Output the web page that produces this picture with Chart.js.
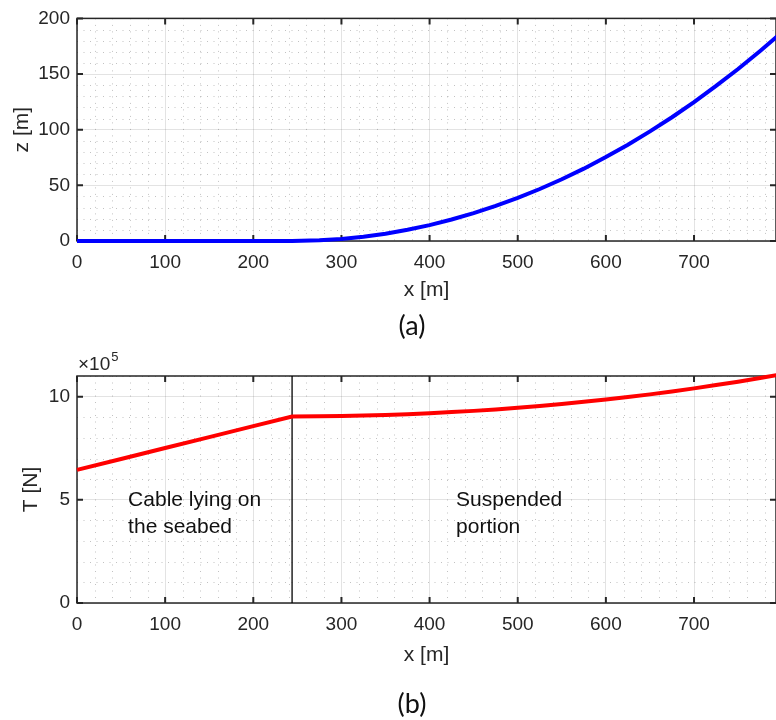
<!DOCTYPE html>
<html>
<head>
<meta charset="utf-8">
<script src="https://cdn.jsdelivr.net/npm/chart.js@4.4.0/dist/chart.umd.min.js"></script>
<style>
  body { margin: 0; background: #fff; }
  #wrap { position: relative; width: 776px; height: 720px; overflow: hidden; }
  canvas { position: absolute; left: 0; }
  #shapeChart { top: 0; }
  #tensionChart { top: 340px; }
  .cap { position: absolute; width: 100px; left: 362px; text-align: center;
         font: 27px Lato, sans-serif; line-height: 30px; color: #111; }
</style>
</head>
<body>
<div id="wrap">
  <canvas id="shapeChart" width="776" height="340"></canvas>
  <canvas id="tensionChart" width="776" height="380"></canvas>
  <div class="cap" style="top:310px">(a)</div>
  <div class="cap" style="top:688px">(b)</div>
</div>
<script>
// cable lying on the seabed: z stays 0, tension grows with friction (T in 1e5 N)
const seabedX = [0, 50, 100, 150, 200, 244];
const seabedZ = [0, 0, 0, 0, 0, 0];
const seabedT = [6.45, 6.98, 7.51, 8.04, 8.57, 9.04];

// suspended catenary from the touchdown point up to the surface
const hangX = [244, 275, 300, 325, 350, 375, 400, 425, 450, 475, 500, 525, 550, 575, 600, 625, 650, 675, 700, 725, 750, 775, 795];
const hangZ = [0, 0.6, 1.8, 3.9, 6.6, 10.1, 14.3, 19.3, 25.0, 31.5, 38.7, 46.7, 55.5, 65.0, 75.4, 86.5, 98.5, 111.2, 124.8, 139.3, 154.5, 170.7, 184.2];
const hangT = [9.04, 9.05, 9.06, 9.08, 9.11, 9.15, 9.20, 9.25, 9.31, 9.38, 9.46, 9.55, 9.64, 9.75, 9.86, 9.98, 10.11, 10.25, 10.40, 10.56, 10.72, 10.90, 11.05];

const touchdownX = 244;
const xMax = 793;
const zMax = 200;
const tMax = 11;
const xTicks = [0, 100, 200, 300, 400, 500, 600, 700];
const zTicks = [0, 50, 100, 150, 200];
const tTicks = [0, 5, 10];

const regionNotes = [
  { x: 58, y: 5.0, lines: ['Cable lying on', 'the seabed'] },
  { x: 430, y: 5.0, lines: ['Suspended', 'portion'] }
];

const ink = '#262626';
const FONT = "'Liberation Sans', Arial, sans-serif";
Chart.defaults.font.family = FONT;
Chart.defaults.color = ink;

function minorsOf(max, step, majors) {
  const out = [];
  for (let i = 1; i * step <= max + 1e-9; i++) {
    const v = Math.round(i * step * 1000) / 1000;
    if (!majors.includes(v)) out.push(v);
  }
  return out;
}

function pts(xs, ys) { return xs.map((x, i) => ({ x: x, y: ys[i] })); }

// matlab-ish axes: dotted minor grid, inward ticks, full box
const axesBox = {
  id: 'axesBox',
  beforeDatasetsDraw(chart, args, o) {
    const { ctx, chartArea: a } = chart;
    const sx = chart.scales.x, sy = chart.scales.y;
    ctx.save();
    ctx.lineWidth = 1;
    ctx.strokeStyle = 'rgba(0,0,0,0.24)';
    ctx.setLineDash([1, 5.5]);
    ctx.beginPath();
    o.xMinor.forEach(v => { const p = Math.round(sx.getPixelForValue(v)) + 0.5; ctx.moveTo(p, a.top); ctx.lineTo(p, a.bottom); });
    o.yMinor.forEach(v => { const p = Math.round(sy.getPixelForValue(v)) + 0.5; ctx.moveTo(a.left, p); ctx.lineTo(a.right, p); });
    ctx.stroke();
    ctx.setLineDash([]);

    ctx.strokeStyle = ink;
    ctx.lineWidth = 2;
    ctx.beginPath();
    sx.ticks.forEach(t => {
      const p = sx.getPixelForValue(t.value);
      ctx.moveTo(p, a.bottom); ctx.lineTo(p, a.bottom - 6);
      ctx.moveTo(p, a.top); ctx.lineTo(p, a.top + 6);
    });
    sy.ticks.forEach(t => {
      const p = sy.getPixelForValue(t.value);
      ctx.moveTo(a.left, p); ctx.lineTo(a.left + 6, p);
      ctx.moveTo(a.right, p); ctx.lineTo(a.right - 6, p);
    });
    ctx.stroke();
    ctx.lineWidth = 1.5;
    ctx.strokeRect(a.left, a.top, a.right - a.left, a.bottom - a.top);
    ctx.restore();
  },
  afterDatasetsDraw(chart, args, o) {
    const { ctx, chartArea: a } = chart;
    const sx = chart.scales.x, sy = chart.scales.y;
    ctx.save();
    ctx.fillStyle = '#111';
    ctx.textBaseline = 'middle';
    ctx.textAlign = 'left';
    ctx.font = '21px ' + FONT;
    (o.notes || []).forEach(n => {
      const px = sx.getPixelForValue(n.x), py = sy.getPixelForValue(n.y);
      n.lines.forEach((s, i) => ctx.fillText(s, px, py + i * 27));
    });
    if (o.exponent) {
      ctx.fillStyle = ink;
      ctx.font = '19px ' + FONT;
      const base = '\u00d710';
      ctx.fillText(base, a.left + 1, a.top - 11);
      const w = ctx.measureText(base).width;
      ctx.font = '13px ' + FONT;
      ctx.fillText(o.exponent, a.left + 2 + w, a.top - 19);
    }
    ctx.restore();
  }
};

function makeAxes(yMax, yTicks, yTitle, yTitlePad, xHeight, xTitlePad) {
  return {
    x: {
      type: 'linear', min: 0, max: xMax,
      afterBuildTicks: s => { s.ticks = xTicks.map(v => ({ value: v })); },
      afterFit: s => { s.height = xHeight; },
      grid: { color: 'rgba(38,38,38,0.13)', drawTicks: false },
      border: { display: false },
      ticks: { padding: 10, font: { size: 19 }, color: ink, maxRotation: 0 },
      title: { display: true, text: 'x [m]', font: { size: 21 }, color: ink, padding: { top: 0, bottom: xTitlePad } }
    },
    y: {
      type: 'linear', min: 0, max: yMax,
      afterBuildTicks: s => { s.ticks = yTicks.map(v => ({ value: v })); },
      afterFit: s => { s.width = 77; },
      grid: { color: 'rgba(38,38,38,0.13)', drawTicks: false },
      border: { display: false },
      ticks: { padding: 7, font: { size: 19 }, color: ink },
      title: { display: true, text: yTitle, font: { size: 21 }, color: ink, padding: { top: yTitlePad, bottom: 0 } }
    }
  };
}

const baseOpts = {
  responsive: false,
  animation: false,
  devicePixelRatio: 1,
  events: [],
  plugins: { legend: { display: false }, tooltip: { enabled: false } }
};

// (a) cable shape
new Chart(document.getElementById('shapeChart'), {
  type: 'line',
  data: {
    datasets: [{
      data: pts(seabedX, seabedZ).concat(pts(hangX.slice(1), hangZ.slice(1))),
      borderColor: '#0000ff', borderWidth: 4, pointRadius: 0, tension: 0, clip: false
    }]
  },
  options: Object.assign({}, baseOpts, {
    layout: { padding: { top: 11, right: 0, left: 0, bottom: 0 } },
    scales: makeAxes(zMax, zTicks, 'z [m]', 10, 99, 37),
    plugins: Object.assign({}, baseOpts.plugins, {
      axesBox: { xMinor: minorsOf(xMax, 20, xTicks), yMinor: minorsOf(zMax, 10, zTicks) }
    })
  }),
  plugins: [axesBox]
});

// (b) tension along the cable
new Chart(document.getElementById('tensionChart'), {
  type: 'line',
  data: {
    datasets: [{
      data: pts(seabedX, seabedT).concat(pts(hangX.slice(1), hangT.slice(1))),
      borderColor: '#ff0000', borderWidth: 4, pointRadius: 0, tension: 0, clip: false
    }, {
      data: [{ x: touchdownX, y: 0 }, { x: touchdownX, y: tMax }],
      borderColor: '#000', borderWidth: 1.3, pointRadius: 0, tension: 0
    }]
  },
  options: Object.assign({}, baseOpts, {
    layout: { padding: { top: 36, right: 0, left: 0, bottom: 0 } },
    scales: makeAxes(tMax, tTicks, 'T [N]', 19, 117, 52),
    plugins: Object.assign({}, baseOpts.plugins, {
      axesBox: { xMinor: minorsOf(xMax, 20, xTicks), yMinor: minorsOf(tMax, 1, tTicks), notes: regionNotes, exponent: '5' }
    })
  }),
  plugins: [axesBox]
});
</script>
</body>
</html>
